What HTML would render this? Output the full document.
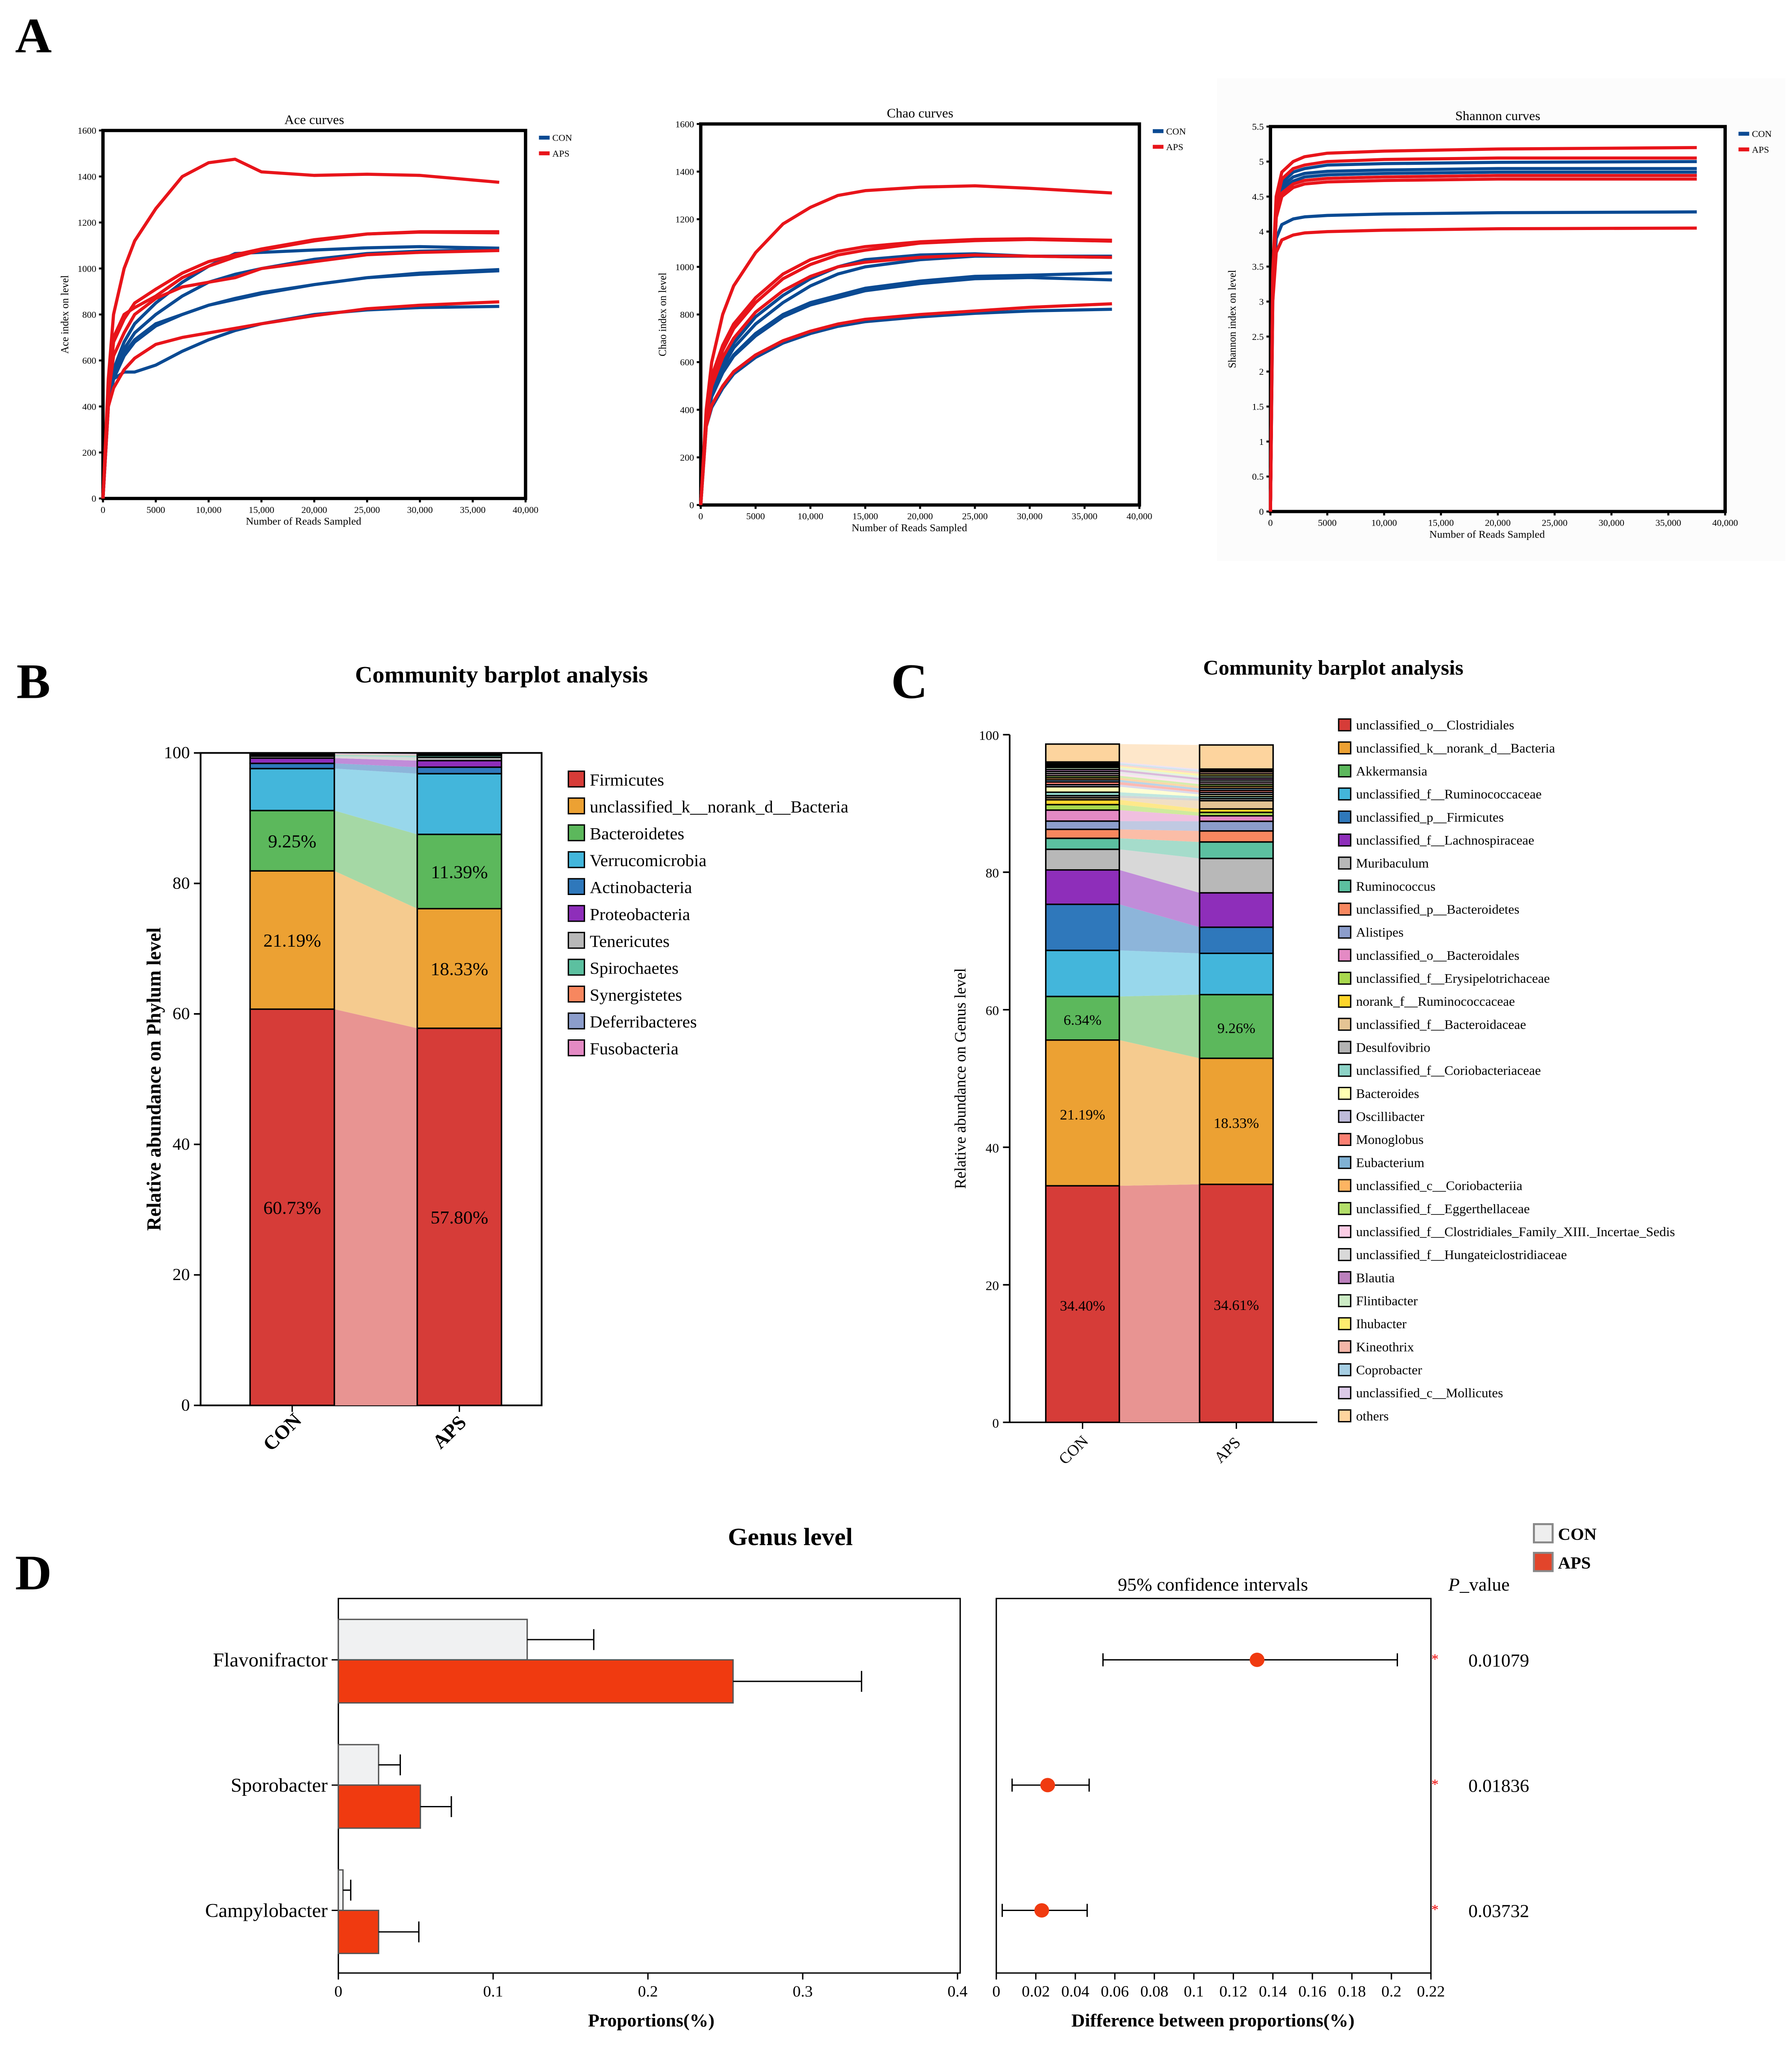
<!DOCTYPE html>
<html><head><meta charset="utf-8"><style>
html,body{margin:0;padding:0;background:#fff;width:100%;height:100%;overflow:hidden;}
svg{display:block;font-family:"Liberation Serif",serif;position:fixed;left:0;top:0;width:100vw;height:100vh;}
</style></head><body>
<svg id="fig" xmlns="http://www.w3.org/2000/svg" viewBox="0 0 1340 1571" preserveAspectRatio="none">
<rect x="0" y="0" width="1340" height="1571" fill="#fff"/>
<rect x="910" y="60" width="425" height="370" fill="#fcfcfc"/>
<g id="root"></g>
</svg>
<script>
// ---------- data: panel A ----------
const rareX = [0,500,1000,2000,3000,5000,7500,10000,12500,15000,20000,25000,30000,37500];
const aceRed = [
 [0,520,800,1000,1120,1260,1400,1460,1475,1420,1405,1410,1405,1375],
 [0,470,700,800,830,880,960,1010,1050,1080,1120,1150,1160,1160],
 [0,460,680,780,850,910,980,1030,1060,1085,1125,1150,1158,1155],
 [0,450,620,720,800,870,920,940,960,1000,1030,1060,1070,1078],
 [0,400,480,560,610,670,700,720,740,760,795,825,840,855]];
const aceBlue = [
 [0,420,560,680,760,850,940,1010,1065,1070,1080,1090,1095,1088],
 [0,410,540,650,720,800,880,940,975,1000,1040,1065,1075,1082],
 [0,400,520,620,680,750,800,840,870,895,930,960,980,995],
 [0,410,530,630,690,760,800,840,865,890,930,960,975,990],
 [0,400,520,550,550,580,640,690,730,760,800,820,830,835]];
const chaoRed = [
 [0,400,600,800,920,1060,1180,1250,1300,1320,1335,1340,1330,1310],
 [0,390,540,670,760,870,970,1030,1065,1085,1105,1115,1118,1112],
 [0,380,520,650,740,850,950,1010,1050,1070,1100,1110,1115,1108],
 [0,370,500,620,700,810,900,960,1000,1020,1040,1050,1045,1040],
 [0,330,420,500,560,630,690,730,760,780,800,815,830,845]];
const chaoBlue = [
 [0,360,490,600,680,790,880,950,1000,1030,1050,1055,1045,1045],
 [0,350,470,580,660,760,850,920,970,1000,1030,1045,1045,1040],
 [0,350,460,560,630,720,800,850,880,910,940,960,965,975],
 [0,345,455,555,625,710,790,840,870,900,930,950,955,945],
 [0,330,410,490,550,620,680,720,750,770,790,805,815,822]];
const shanX = [0,200,500,1000,2000,3000,5000,10000,20000,37500];
const shanRed = [
 [0,3.4,4.5,4.85,5.0,5.07,5.12,5.15,5.18,5.2],
 [0,3.3,4.4,4.75,4.9,4.95,5.0,5.03,5.05,5.05],
 [0,3.2,4.2,4.55,4.68,4.73,4.76,4.78,4.8,4.8],
 [0,3.2,4.2,4.5,4.63,4.68,4.71,4.73,4.75,4.75],
 [0,3.0,3.7,3.88,3.95,3.98,4.0,4.02,4.04,4.05]];
const shanBlue = [
 [0,3.3,4.4,4.7,4.85,4.9,4.95,4.97,4.99,5.0],
 [0,3.3,4.35,4.65,4.78,4.83,4.86,4.88,4.9,4.9],
 [0,3.2,4.3,4.6,4.72,4.78,4.81,4.83,4.85,4.85],
 [0,3.2,4.25,4.55,4.68,4.73,4.76,4.78,4.8,4.8],
 [0,3.0,3.9,4.1,4.18,4.21,4.23,4.25,4.27,4.28]];
// ---------- data: panel B ----------
const phyla = ["Firmicutes","unclassified_k__norank_d__Bacteria","Bacteroidetes","Verrucomicrobia","Actinobacteria","Proteobacteria","Tenericutes","Spirochaetes","Synergistetes","Deferribacteres","Fusobacteria"];
const phyCON = [60.73,21.19,9.25,6.43,0.8,0.8,0.3,0.2,0.1,0.1,0.05];
const phyAPS = [57.80,18.33,11.39,9.3,1.0,1.0,0.5,0.3,0.1,0.1,0.05];
const phyLabelsCON = ["60.73%","21.19%","9.25%"];
const phyLabelsAPS = ["57.80%","18.33%","11.39%"];
// ---------- data: panel C ----------
const genera = ["unclassified_o__Clostridiales","unclassified_k__norank_d__Bacteria","Akkermansia","unclassified_f__Ruminococcaceae","unclassified_p__Firmicutes","unclassified_f__Lachnospiraceae","Muribaculum","Ruminococcus","unclassified_p__Bacteroidetes","Alistipes","unclassified_o__Bacteroidales","unclassified_f__Erysipelotrichaceae","norank_f__Ruminococcaceae","unclassified_f__Bacteroidaceae","Desulfovibrio","unclassified_f__Coriobacteriaceae","Bacteroides","Oscillibacter","Monoglobus","Eubacterium","unclassified_c__Coriobacteriia","unclassified_f__Eggerthellaceae","unclassified_f__Clostridiales_Family_XIII._Incertae_Sedis","unclassified_f__Hungateiclostridiaceae","Blautia","Flintibacter","Ihubacter","Kineothrix","Coprobacter","unclassified_c__Mollicutes","others"];
const genCON = [34.40,21.19,6.34,6.7,6.7,5.0,3.0,1.6,1.3,1.2,1.6,0.8,0.7,0.3,0.3,0.5,0.8,0.3,0.4,0.3,0.3,0.3,0.3,0.3,0.3,0.3,0.2,0.2,0.2,0.2,2.6];
const genAPS = [34.61,18.33,9.26,6.0,3.8,5.0,5.0,2.4,1.6,1.4,0.8,0.5,0.5,1.2,0.3,0.3,0.3,0.3,0.3,0.3,0.3,0.3,0.3,0.3,0.3,0.3,0.3,0.3,0.2,0.2,3.5];
const genLabelsCON = ["34.40%","21.19%","6.34%"];
const genLabelsAPS = ["34.61%","18.33%","9.26%"];
// ---------- data: panel D ----------
const dGenera = ["Flavonifractor","Sporobacter","Campylobacter"];
const dCON = [0.122,0.026,0.003];
const dCONerr = [0.165,0.040,0.008];
const dAPS = [0.255,0.053,0.026];
const dAPSerr = [0.338,0.073,0.052];
const diffVal = [0.132,0.026,0.023];
const diffLo = [0.054,0.008,0.003];
const diffHi = [0.203,0.047,0.046];
const pVals = ["0.01079","0.01836","0.03732"];
const propTicks = [0,0.1,0.2,0.3,0.4];
const diffTicks = [0,0.02,0.04,0.06,0.08,0.1,0.12,0.14,0.16,0.18,0.2,0.22];

const NS="http://www.w3.org/2000/svg";
const root=document.getElementById('root');
function el(tag,attrs,parent,text){
  const e=document.createElementNS(NS,tag);
  for(const k in attrs) e.setAttribute(k,attrs[k]);
  if(text!==undefined) e.textContent=text;
  (parent||root).appendChild(e); return e;
}
function txt(x,y,s,size,opts,name){
  opts=opts||{};
  const t=el('text',{x:x,y:y,'font-size':size,'text-anchor':opts.anchor||'middle','font-weight':opts.weight||'normal',fill:opts.fill||'#000'},opts.parent,s);
  if(opts.rot!==undefined) t.setAttribute('transform','rotate('+opts.rot+' '+x+' '+y+')');
  
  
  return t;
}
function fmt(v){return v>=10000? (v/1000)+',000' : String(v);}

[["A",25,40],["B",25,535],["C",680,535],["D",25,1218]].forEach(p=>{
  txt(p[1],p[2],p[0],38,{weight:'bold'},'panel-letter-'+p[0].toLowerCase());
});

// ---------- Panel A ----------
function rarePlot(cfg){
  const {x0,x1,y0,y1,ymax,ystep,title,ylab,xs,red,blue,key,ydec}=cfg;
  const g=el('g',{});
  
  
  const X=v=>x0+(v/40000)*(x1-x0);
  const Y=v=>y1-(v/ymax)*(y1-y0);
  const fr=el('rect',{x:x0,y:y0,width:x1-x0,height:y1-y0,fill:'#fff',stroke:'#000','stroke-width':2.5},g);
  
  
  txt((x0+x1)/2,y0-5,title,10,{parent:g},key+'-title');
  for(let v=0;v<=ymax+1e-9;v+=ystep){
    const y=Y(v);
    el('line',{x1:x0-3,x2:x0,y1:y,y2:y,stroke:'#000','stroke-width':1.5},g);
    txt(x0-5,y+2.5,ydec?String(Math.round(v*10)/10):String(v),7,{anchor:'end',parent:g},key+'-y-tick');
  }
  for(let v=0;v<=40000;v+=5000){
    const x=X(v);
    el('line',{x1:x,x2:x,y1:y1,y2:y1+3,stroke:'#000','stroke-width':1.5},g);
    txt(x,y1+11,fmt(v),7,{parent:g},key+'-x-tick');
  }
  txt((x0+x1)/2-8,y1+20,'Number of Reads Sampled',8,{parent:g},key+'-x-axis-title');
  txt(x0-26,(y0+y1)/2,ylab,8,{rot:-90,parent:g},key+'-y-axis-title');
  const draw=(arr,col,nm)=>arr.forEach(s=>{
    const d=s.map((v,i)=>(i?'L':'M')+X(xs[i]).toFixed(1)+','+Y(v).toFixed(1)).join(' ');
    const p=el('path',{d:d,fill:'none',stroke:col,'stroke-width':2.4,'stroke-linejoin':'round'},g);
    
    
  });
  draw(blue,'#0a4a93',key+'-con-curve');
  draw(red,'#e8141a',key+'-aps-curve');
  const lx=x1+10;
  [['CON','#0a4a93',y0+6],['APS','#e8141a',y0+18]].forEach(l=>{
    el('rect',{x:lx,y:l[2]-2,width:8,height:3,fill:l[1]},g);
    txt(lx+10,l[2]+2,l[0],7,{anchor:'start',parent:g},key+'-legend-'+l[0].toLowerCase());
  });
}
rarePlot({x0:77,x1:393,y0:100,y1:382,ymax:1600,ystep:200,title:'Ace curves',ylab:'Ace index on level',xs:rareX,red:aceRed,blue:aceBlue,key:'ace'});
rarePlot({x0:524,x1:852,y0:95,y1:387,ymax:1600,ystep:200,title:'Chao curves',ylab:'Chao index on level',xs:rareX,red:chaoRed,blue:chaoBlue,key:'chao'});
rarePlot({x0:950,x1:1290,y0:97,y1:392,ymax:5.5,ystep:0.5,title:'Shannon curves',ylab:'Shannon index on level',xs:shanX,red:shanRed,blue:shanBlue,key:'shannon',ydec:true});

// ---------- stacked bars ----------
const phyCol=["#d63c38","#eca133","#5cb85c","#43b6db","#2f78bb","#8e2eba","#b8b8b8","#5cc0a0","#f7875f","#8c9dcb","#e48ac4"];
const genCol=["#d63c38","#eca133","#5cb85c","#43b6db","#2f78bb","#8e2eba","#b8b8b8","#5cc0a0","#f7875f","#8c9dcb","#e48ac4","#a8d84e","#fdd52b","#e5c494","#b3b3b3","#8dd3c7","#ffffb3","#bebada","#fb8072","#80b1d3","#fdb462","#b3de69","#fccde5","#d9d9d9","#bc80bd","#ccebc5","#ffed6f","#f4b6a8","#a6cee3","#dccae8","#fdd49e"];
function light(hex){
  const n=parseInt(hex.slice(1),16);let r=n>>16,g=(n>>8)&255,b=n&255;
  const m=c=>Math.round(c+(255-c)*0.45);
  return 'rgb('+m(r)+','+m(g)+','+m(b)+')';
}
function stacked(cfg){
  const {ax,y0,y1,bx1,bx2,bw,c1,c2,cols,names,lab1,lab2,key,ylab,ylabX,framed,fx2,lx,ly,lstep,fs,tickStep}=cfg;
  const g=el('g',{});
  
  
  const Y=v=>y1-(v/100)*(y1-y0);
  if(framed){
    el('rect',{x:ax,y:y0,width:fx2-ax,height:y1-y0,fill:'none',stroke:'#000','stroke-width':1.3},g);
  } else {
    el('line',{x1:ax,x2:ax,y1:y0,y2:y1,stroke:'#000','stroke-width':1.2},g);
    el('line',{x1:ax,x2:fx2,y1:y1,y2:y1,stroke:'#000','stroke-width':1.2},g);
  }
  for(let v=0;v<=100;v+=tickStep){
    el('line',{x1:ax-5,x2:ax,y1:Y(v),y2:Y(v),stroke:'#000','stroke-width':1.2},g);
    txt(ax-8,Y(v)+4,String(v),fs,{anchor:'end',parent:g},key+'-y-tick');
  }
  let a=0,b=0;
  c1.forEach((v,i)=>{
    const a2=a+v,b2=b+c2[i];
    const f=el('polygon',{points:[bx1+bw,Y(a),bx2,Y(b),bx2,Y(b2),bx1+bw,Y(a2)].join(' '),fill:light(cols[i])},g);
    
    
    const r1=el('rect',{x:bx1,y:Y(a2),width:bw,height:Y(a)-Y(a2),fill:cols[i],stroke:'#000','stroke-width':1.1},g);
    
    
    const r2=el('rect',{x:bx2,y:Y(b2),width:bw,height:Y(b)-Y(b2),fill:cols[i],stroke:'#000','stroke-width':1.1},g);
    
    
    if(i<3){
      txt(bx1+bw/2,(Y(a)+Y(a2))/2+5,lab1[i],fs+1,{parent:g},key+'-con-percent');
      txt(bx2+bw/2,(Y(b)+Y(b2))/2+5,lab2[i],fs+1,{parent:g},key+'-aps-percent');
    }
    a=a2;b=b2;
  });
  [['CON',bx1+bw/2],['APS',bx2+bw/2]].forEach(t=>{
    el('line',{x1:t[1],x2:t[1],y1:y1,y2:y1+5,stroke:'#000'},g);
    txt(t[1]-4,y1+24,t[0],fs+2,{rot:-45,weight:framed?'bold':'normal',parent:g},key+'-x-label-'+t[0].toLowerCase());
  });
  txt(ylabX,(y0+y1)/2,ylab,framed?15:12,{rot:-90,weight:framed?'bold':'normal',parent:g},key+'-y-axis-title');
  names.forEach((n,i)=>{
    const y=ly+i*lstep;
    const s=el('rect',{x:lx,y:y-fs+2,width:fs-1,height:fs-1,fill:cols[i],stroke:'#000','stroke-width':1},g);
    
    
    txt(lx+fs+3,y,n,fs,{anchor:'start',parent:g},key+'-legend-entry');
  });
}
txt(375,523,'Community barplot analysis',18,{weight:'bold'},'phylum-chart-title');
stacked({ax:150,y0:577,y1:1077,bx1:187,bx2:312,bw:63,c1:phyCON,c2:phyAPS,cols:phyCol,names:phyla,lab1:phyLabelsCON,lab2:phyLabelsAPS,key:'phylum',ylab:'Relative abundance on Phylum level',ylabX:120,framed:true,fx2:405,lx:425,ly:602,lstep:20.6,fs:13,tickStep:20});
txt(997,517,'Community barplot analysis',16,{weight:'bold'},'genus-chart-title');
stacked({ax:755,y0:563,y1:1090,bx1:782,bx2:897,bw:55,c1:genCON,c2:genAPS,cols:genCol,names:genera,lab1:genLabelsCON,lab2:genLabelsAPS,key:'genus',ylab:'Relative abundance on Genus level',ylabX:722,framed:false,fx2:985,lx:1001,ly:559,lstep:17.65,fs:10,tickStep:20});

// ---------- Panel D ----------
(function(){
  const g=el('g',{});
  
  
  txt(591,1184,'Genus level',19,{weight:'bold',parent:g},'panel-d-title');
  [['CON','#eeeeee',1176],['APS','#e2452b',1198]].forEach(l=>{
    el('rect',{x:1147,y:l[2]-8,width:14,height:14,fill:l[1],stroke:'#888','stroke-width':1.5},g);
    txt(1165,l[2]+4,l[0],13,{anchor:'start',weight:'bold',parent:g},'legend-'+l[0].toLowerCase());
  });
  const L={x0:253,x1:718,y0:1225,y1:1512};
  const PX=v=>L.x0+v*(716-253)/0.4;
  el('rect',{x:L.x0,y:L.y0,width:L.x1-L.x0,height:L.y1-L.y0,fill:'none',stroke:'#000','stroke-width':1},g);
  propTicks.forEach(v=>{
    el('line',{x1:PX(v),x2:PX(v),y1:L.y1,y2:L.y1+5,stroke:'#000'},g);
    txt(PX(v),L.y1+18,String(v),12,{parent:g},'proportion-x-tick');
  });
  txt(487,1553,'Proportions(%)',14,{weight:'bold',parent:g},'proportion-x-axis-title');
  const cy=[1272,1368,1464];
  dGenera.forEach((n,i)=>{
    const y=cy[i];
    txt(245,y+5,n,15,{anchor:'end',parent:g},'genus-label');
    el('line',{x1:L.x0-5,x2:L.x0,y1:y,y2:y,stroke:'#000'},g);
    const b1=el('rect',{x:PX(0),y:y-31,width:PX(dCON[i])-PX(0),height:31,fill:'#f0f1f2',stroke:'#555','stroke-width':1},g);
    
    
    const b2=el('rect',{x:PX(0),y:y,width:PX(dAPS[i])-PX(0),height:33,fill:'#f03a10',stroke:'#555','stroke-width':1},g);
    
    
    [[dCON[i],dCONerr[i],y-15.5],[dAPS[i],dAPSerr[i],y+16.5]].forEach(e=>{
      el('line',{x1:PX(e[0]),x2:PX(e[1]),y1:e[2],y2:e[2],stroke:'#000'},g);
      el('line',{x1:PX(e[1]),x2:PX(e[1]),y1:e[2]-8,y2:e[2]+8,stroke:'#000'},g);
    });
  });
  const R={x0:745,x1:1070};
  const DX=v=>R.x0+v*(R.x1-R.x0)/0.22;
  el('rect',{x:R.x0,y:L.y0,width:R.x1-R.x0,height:L.y1-L.y0,fill:'none',stroke:'#000','stroke-width':1},g);
  diffTicks.forEach(v=>{
    el('line',{x1:DX(v),x2:DX(v),y1:L.y1,y2:L.y1+5,stroke:'#000'},g);
    txt(DX(v),L.y1+18,String(v),12,{parent:g},'difference-x-tick');
  });
  txt(907,1553,'Difference between proportions(%)',14,{weight:'bold',parent:g},'difference-x-axis-title');
  txt(907,1219,'95% confidence intervals',14,{parent:g},'ci-title');
  const ph=txt(1083,1219,'',14,{anchor:'start',parent:g},'p-value-header');
  el('tspan',{'font-style':'italic'},ph,'P');
  el('tspan',{},ph,'_value');
  dGenera.forEach((n,i)=>{
    const y=cy[i];
    el('line',{x1:DX(diffLo[i]),x2:DX(diffHi[i]),y1:y,y2:y,stroke:'#000'},g);
    el('line',{x1:DX(diffLo[i]),x2:DX(diffLo[i]),y1:y-5,y2:y+5,stroke:'#000'},g);
    el('line',{x1:DX(diffHi[i]),x2:DX(diffHi[i]),y1:y-5,y2:y+5,stroke:'#000'},g);
    const c=el('circle',{cx:DX(diffVal[i]),cy:y,r:5.5,fill:'#f03a10'},g);
    
    
    txt(1073,y+3,'*',11,{fill:'#e00',parent:g},'significance-star');
    txt(1098,y+5,pVals[i],14,{anchor:'start',parent:g},'p-value');
  });
})();
</script>
</body></html>
